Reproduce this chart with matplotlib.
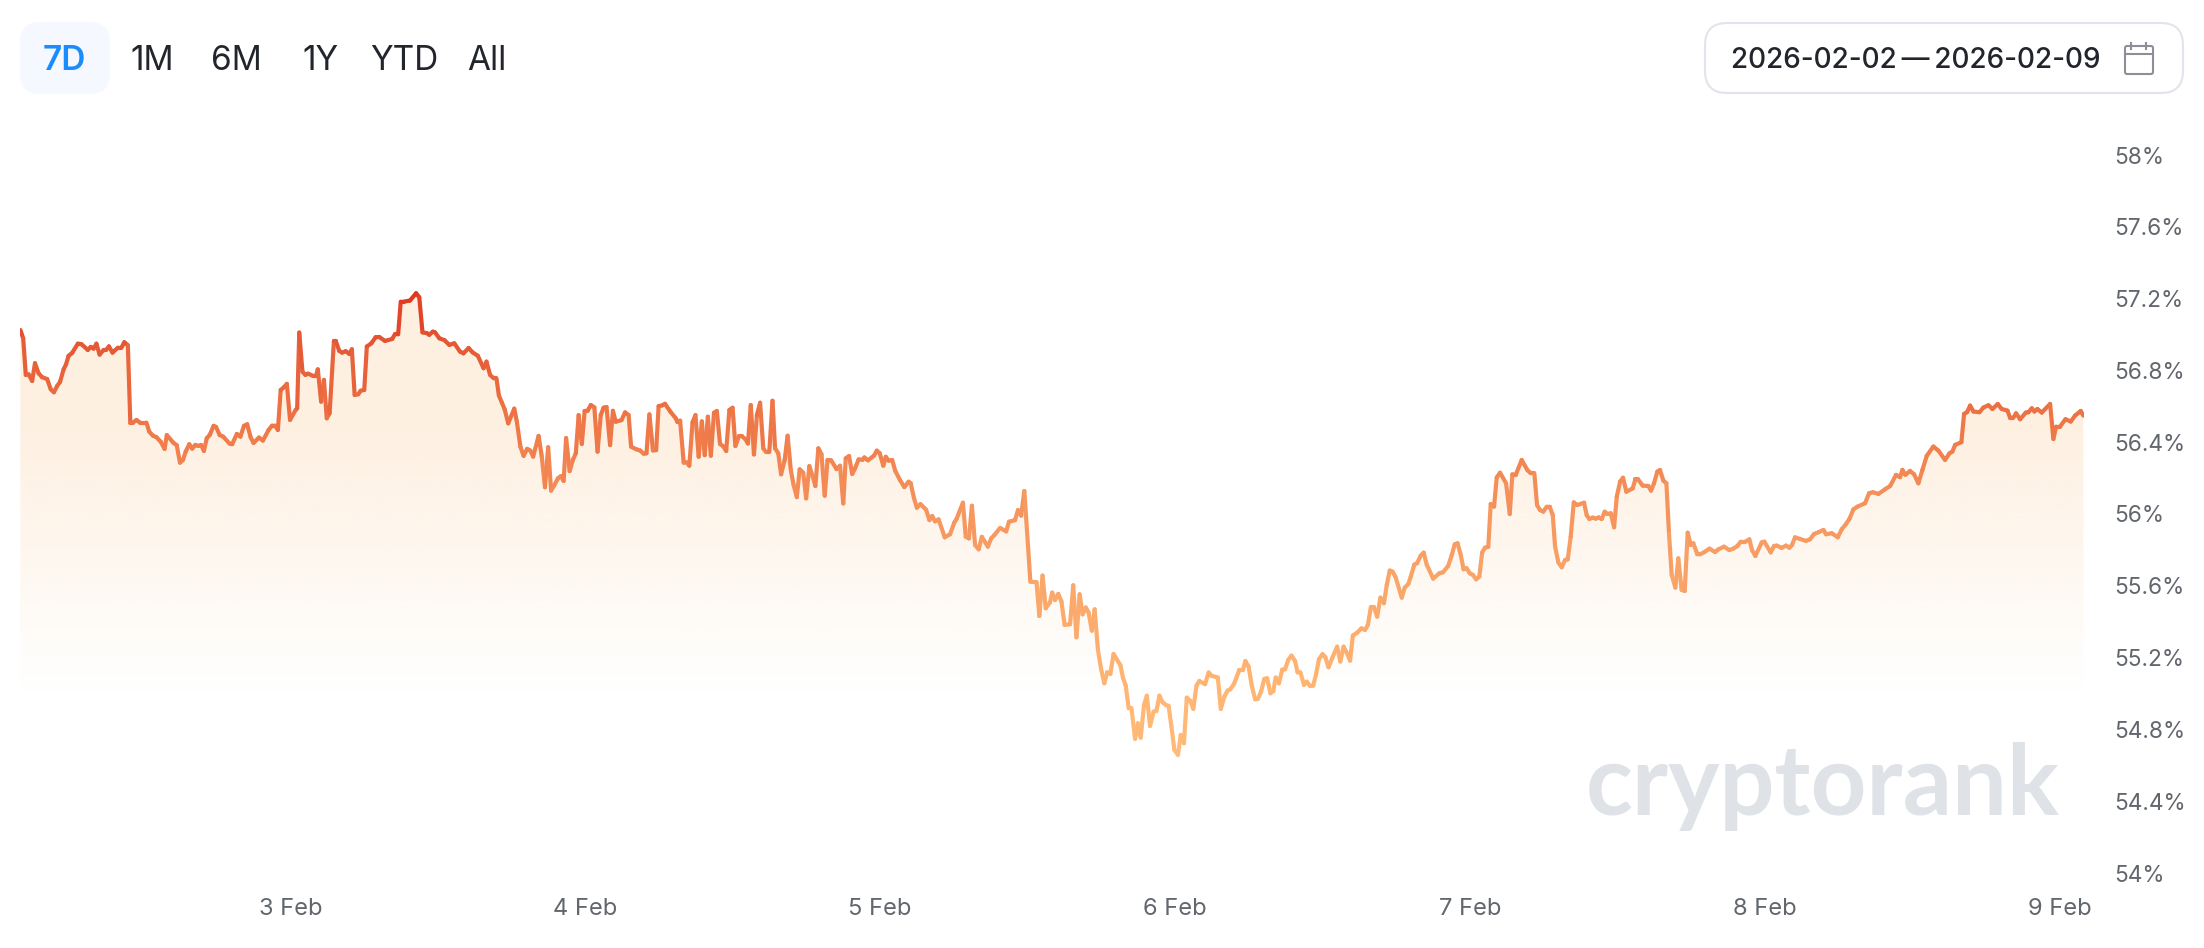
import numpy as np
import matplotlib
matplotlib.use("Agg")
import matplotlib.pyplot as plt
from matplotlib.collections import LineCollection
from matplotlib.colors import LinearSegmentedColormap, Normalize
from matplotlib.patches import FancyBboxPatch, Polygon

plt.rcParams['font.family'] = ['Inter', 'DejaVu Sans']

# hours since 2 Feb 02:00
hours = [0.03,0.26,0.47,0.70,0.99,1.22,1.51,1.80,2.21,2.50,2.76,3.02,3.26,3.55,3.75,3.95,4.24,4.71,5.00,5.52,5.76,5.99,6.22,6.48,6.80,7.01,7.24,7.53,7.97,8.26,8.49,8.78,8.98,9.19,9.48,9.77,10.29,10.52,10.81,11.10,11.45,11.77,11.95,12.47,12.76,13.02,13.26,13.49,13.78,14.01,14.27,14.51,14.74,14.97,15.20,15.44,15.76,15.96,16.25,16.54,17.06,17.27,17.65,17.94,18.23,18.49,18.78,19.01,19.45,19.77,20.23,20.52,20.76,20.99,21.22,21.48,21.72,21.98,22.44,22.56,22.73,22.99,23.23,23.43,23.81,24.10,24.24,24.51,24.74,24.97,25.20,25.55,25.70,25.99,26.22,26.51,26.80,27.01,27.24,27.53,27.73,28.02,28.23,28.60,28.95,29.24,29.71,30.29,30.52,30.78,30.99,31.22,31.74,32.24,32.50,32.76,33.14,33.31,33.60,33.78,34.13,34.56,34.94,35.35,35.81,36.10,36.51,36.83,37.27,37.73,37.97,38.26,38.55,38.78,38.98,39.22,39.45,39.74,40.23,40.44,40.73,40.99,41.28,41.54,41.77,42.21,42.47,42.73,42.99,43.23,
43.49,43.78,44.02,44.25,44.45,44.74,45.00,45.24,45.47,45.73,45.96,46.20,46.46,46.75,47.01,47.27,47.50,47.74,48.03,48.26,48.49,48.96,49.25,49.54,49.74,50.18,50.47,50.76,50.99,51.23,51.52,51.78,51.98,52.27,52.50,52.94,53.38,53.52,53.73,54.02,54.25,54.48,54.74,54.98,55.24,55.50,55.73,55.99,56.23,56.49,56.72,56.98,57.21,57.48,57.74,58.00,58.23,58.52,58.75,59.05,59.25,59.48,59.74,59.98,60.24,60.50,60.70,60.99,61.25,61.46,61.72,61.95,62.24,62.48,62.74,62.97,63.23,63.46,63.75,63.99,64.25,64.51,64.74,64.98,65.24,65.50,65.73,66.02,66.46,66.75,67.01,67.21,67.48,67.74,67.97,68.26,68.58,68.73,69.02,69.51,69.74,69.98,70.27,70.47,70.70,70.99,71.25,71.63,71.98,72.33,72.50,72.77,73.00,73.29,73.75,74.02,74.25,74.48,74.77,75.27,75.70,76.05,76.23,76.75,76.98,77.24,77.48,77.74,78.03,78.29,78.78,79.05,79.31,79.77,80.27,80.50,80.99,81.23,81.49,81.75,
82.24,82.74,82.97,83.23,83.49,83.84,84.01,84.25,84.51,84.77,85.03,85.47,85.73,85.99,86.25,86.49,86.75,86.98,87.24,87.47,87.74,88.00,88.26,88.49,88.75,89.01,89.57,89.77,90.00,90.24,90.47,90.76,90.99,91.22,91.49,91.72,91.98,92.27,92.50,92.74,93.00,93.29,93.49,93.72,93.96,94.25,94.48,94.74,94.97,95.26,95.50,95.76,95.99,96.46,96.75,97.01,97.50,97.74,98.03,98.29,98.52,98.81,99.25,99.54,99.74,100.00,100.26,100.53,100.76,101.02,101.28,101.51,101.78,102.01,102.21,102.47,102.74,102.97,103.23,103.49,103.78,103.99,104.22,104.51,104.74,105.00,105.26,105.50,105.73,106.02,106.25,106.51,106.80,107.21,107.47,107.73,107.97,108.26,108.49,108.84,109.19,109.48,109.71,109.95,110.21,110.47,110.73,111.02,111.25,111.49,111.72,111.95,112.47,112.71,113.00,113.20,113.49,113.72,114.01,114.25,114.51,115.03,115.53,115.82,116.25,116.54,116.78,117.01,117.27,117.50,117.74,118.00,118.26,118.52,118.78,119.01,119.25,119.51,
119.71,119.98,120.20,120.47,120.96,121.26,121.47,121.74,122.23,122.69,122.96,123.26,123.48,123.72,123.99,124.27,124.51,124.76,124.95,125.22,125.49,125.76,125.98,126.22,126.47,126.74,127.31,127.52,127.74,128.01,128.26,128.50,128.74,128.99,129.20,129.48,129.75,129.97,130.24,130.48,130.75,131.27,131.48,131.70,132.08,132.54,132.76,133.00,133.27,133.49,133.76,134.01,134.22,134.44,134.74,134.98,135.25,135.50,135.74,135.99,136.20,136.53,136.75,137.15,137.51,137.97,138.24,138.70,139.13,139.46,139.79,140.06,140.44,140.76,140.98,141.25,141.77,141.98,142.50,142.77,142.99,143.39,143.75,144.02,144.23,144.48,144.89,145.37,145.70,146.03,146.38,
146.79,147.01,147.47,147.96,148.28,148.64,148.91,149.23,149.56,150.18,150.51,150.81,151.27,151.81,152.22,152.70,153.03,153.22,153.46,153.84,154.17,154.52,154.85,155.20,155.74,156.15,156.69,157.05,157.29,157.51,158.02,158.24,158.48,158.73,159.00,159.49,159.81,160.22,160.55,160.98,161.30,161.77,161.98,162.25,162.47,162.80,163.26,163.48,163.75,163.96,164.21,164.56,165.24,165.51,165.73,166.05,166.49,166.92,167.27,167.73,167.95]

share_pct = [57.025,56.979,56.775,56.778,56.741,56.840,56.784,56.762,56.752,56.695,56.678,56.713,56.736,56.806,56.834,56.881,56.897,56.949,56.946,56.914,56.931,56.921,56.949,56.888,56.914,56.914,56.934,56.899,56.927,56.927,56.957,56.940,56.509,56.509,56.524,56.509,56.509,56.459,56.437,56.428,56.403,56.363,56.440,56.398,56.383,56.286,56.301,56.348,56.389,56.364,56.385,56.379,56.385,56.351,56.422,56.440,56.491,56.485,56.440,56.431,56.392,56.389,56.446,56.431,56.491,56.500,56.426,56.396,56.426,56.409,56.468,56.493,56.493,56.468,56.691,56.706,56.725,56.524,56.580,56.589,57.011,56.793,56.775,56.782,56.771,56.771,56.806,56.626,56.747,56.533,56.561,56.964,56.964,56.908,56.899,56.907,56.892,56.918,56.663,56.667,56.687,56.691,56.933,56.951,56.985,56.986,56.964,56.975,57.001,57.001,57.183,57.183,57.189,57.230,57.207,57.012,57.007,56.998,57.016,57.012,56.979,56.968,56.942,56.951,56.905,56.895,56.925,56.901,56.881,56.812,56.849,56.775,56.756,56.756,56.660,56.621,56.583,56.505,56.587,56.515,56.375,56.324,56.363,56.353,56.320,56.435,56.320,56.149,56.372,56.130,
56.161,56.198,56.211,56.184,56.423,56.239,56.301,56.338,56.551,56.390,56.574,56.575,56.607,56.594,56.347,56.551,56.592,56.596,56.384,56.575,56.514,56.523,56.566,56.551,56.375,56.360,56.354,56.336,56.338,56.555,56.354,56.356,56.601,56.605,56.614,56.570,56.533,56.512,56.520,56.286,56.288,56.269,56.510,56.551,56.319,56.516,56.328,56.542,56.325,56.564,56.574,56.390,56.379,56.351,56.579,56.592,56.379,56.434,56.434,56.416,56.393,56.607,56.332,56.551,56.620,56.366,56.347,56.347,56.631,56.366,56.338,56.221,56.301,56.436,56.245,56.161,56.094,56.249,56.230,56.087,56.267,56.211,56.156,56.366,56.332,56.102,56.301,56.299,56.250,56.269,56.059,56.310,56.323,56.223,56.254,56.304,56.302,56.315,56.299,56.325,56.353,56.338,56.269,56.319,56.297,56.301,56.239,56.189,56.150,56.180,56.171,56.087,56.035,56.055,56.024,55.966,55.989,55.959,55.970,55.870,55.887,55.953,55.972,56.063,55.873,55.864,56.046,55.827,55.803,55.873,55.818,55.864,55.883,55.922,55.903,55.957,55.966,56.022,55.991,56.128,
55.623,55.620,55.432,55.657,55.475,55.508,55.562,55.521,55.555,55.512,55.382,55.386,55.603,55.313,55.553,55.441,55.479,55.451,55.350,55.469,55.243,55.135,55.057,55.118,55.109,55.220,55.157,55.089,55.044,54.918,54.918,54.747,54.834,54.754,54.936,54.988,54.819,54.899,54.903,54.988,54.951,54.935,54.931,54.816,54.686,54.658,54.769,54.723,54.977,54.959,54.914,55.044,55.070,55.052,55.117,55.098,55.089,54.914,54.983,55.016,55.024,55.053,55.131,55.131,55.181,55.150,55.044,54.968,54.970,55.011,55.081,55.085,55.001,55.014,55.089,55.057,55.133,55.135,55.187,55.211,55.181,55.118,55.117,55.048,55.066,55.042,55.044,55.109,55.191,55.219,55.202,55.146,55.196,55.261,55.178,55.261,55.230,55.183,55.323,55.339,55.363,55.354,55.382,55.480,55.480,55.428,55.534,55.503,55.605,55.685,55.679,55.651,55.534,55.590,55.610,55.651,55.718,55.726,55.768,55.785,55.716,55.640,55.670,55.675,55.711,55.772,55.831,55.837,55.772,55.692,55.698,55.670,55.661,55.636,55.651,55.785,55.813,55.817,
56.056,56.041,56.204,56.230,56.171,56.000,56.221,56.217,56.301,56.245,56.227,56.227,56.050,56.022,56.013,56.041,56.041,55.994,55.818,55.729,55.703,55.744,55.747,55.874,56.065,56.050,56.063,55.994,55.972,55.980,55.974,55.981,55.972,56.013,56.000,56.004,55.926,56.097,56.180,56.202,56.124,56.143,56.193,56.193,56.158,56.156,56.130,56.171,56.236,56.245,56.186,56.171,55.892,55.660,55.590,55.753,55.577,55.571,55.896,55.827,55.837,55.775,55.775,55.790,55.807,55.788,55.803,55.818,55.799,55.807,55.822,55.846,55.846,55.859,55.799,55.766,55.842,55.846,55.786,55.822,55.824,55.811,55.824,55.812,55.827,55.870,55.861,55.850,55.859,55.889,55.898,
55.911,55.887,55.893,55.870,55.915,55.945,55.973,56.026,56.041,56.060,56.116,56.121,56.112,56.138,56.156,56.218,56.205,56.246,56.218,56.240,56.221,56.171,56.246,56.324,56.376,56.353,56.301,56.338,56.348,56.385,56.400,56.558,56.567,56.604,56.571,56.567,56.593,56.606,56.585,56.613,56.585,56.576,56.537,56.537,56.561,56.528,56.565,56.567,56.589,56.571,56.585,56.565,56.613,56.418,56.487,56.487,56.528,56.515,56.548,56.574,56.548]

y_ticks = [54, 54.4, 54.8, 55.2, 55.6, 56, 56.4, 56.8, 57.2, 57.6, 58]
y_labels = ['54%', '54.4%', '54.8%', '55.2%', '55.6%', '56%', '56.4%', '56.8%', '57.2%', '57.6%', '58%']
x_ticks = [22, 46, 70, 94, 118, 142, 166]
x_labels = ['3 Feb', '4 Feb', '5 Feb', '6 Feb', '7 Feb', '8 Feb', '9 Feb']
ranges = ['1M', '6M', '1Y', 'YTD', 'All']
range_x = [152, 236, 320, 404, 487]

n = min(len(hours), len(share_pct))
t = np.array(hours[:n])
v = np.array(share_pct[:n])

W, H = 2204, 948
fig = plt.figure(figsize=(W / 100, H / 100), dpi=100, facecolor='white')
ax = fig.add_axes([20 / W, 1 - 873 / H, (2084 - 20) / W, (873 - 155) / H])
ax.set_xlim(0, 168)
ax.set_ylim(54, 58)
for s in ax.spines.values():
    s.set_visible(False)
ax.yaxis.tick_right()
ax.set_yticks(y_ticks, y_labels)
ax.set_xticks(x_ticks, x_labels)
ax.tick_params(axis='y', length=0, pad=22, labelsize=16.3, labelcolor='#62666D')
ax.tick_params(axis='x', length=0, pad=18, labelsize=17, labelcolor='#62666D')
for lab in ax.get_yticklabels():
    lab.set_ha('left')

# area gradient
ramp = np.linspace(0, 1, 400)[:, None]       # 0 at 58%, 1 at 54%
levels = 58 - ramp * 4
alpha = np.clip((levels - 55.0) / (56.5 - 55.0), 0, 1)
img = np.zeros((400, 1, 4))
img[..., 0] = 0xFE / 255
img[..., 1] = 0xF0 / 255
img[..., 2] = 0xE1 / 255
img[..., 3] = alpha
im = ax.imshow(img, extent=(0, 168, 54, 58), aspect='auto', zorder=1, interpolation='bilinear')
poly = Polygon(np.r_[np.c_[t, v], [[t[-1], 54], [t[0], 54]]], closed=True, transform=ax.transData)
im.set_clip_path(poly)
ax.set_xlim(0, 168)
ax.set_ylim(54, 58)

# line with vertical gradient
cmap = LinearSegmentedColormap.from_list('line', [
    (0.00, '#FFBC7A'), (0.16, '#FFB472'), (0.36, '#FAA76A'),
    (0.56, '#F5915B'), (0.68, '#F07D4B'), (0.88, '#E65A36'), (1.00, '#E0381E')])
pts = np.c_[t, v].reshape(-1, 1, 2)
segs = np.concatenate([pts[:-1], pts[1:]], axis=1)
lc = LineCollection(segs, cmap=cmap, norm=Normalize(54.65, 57.23), linewidths=3.0,
                    capstyle='round', joinstyle='round', zorder=3)
lc.set_array((v[:-1] + v[1:]) / 2)
ax.add_collection(lc)

# chrome overlay in pixel coordinates
ov = fig.add_axes([0, 0, 1, 1], zorder=-1)
ov.set_xlim(0, W)
ov.set_ylim(H, 0)
ov.axis('off')
ax.patch.set_alpha(0)

ov.add_patch(FancyBboxPatch((20, 22), 90, 72, boxstyle='round,pad=0,rounding_size=20', lw=0, fc='#F5F9FF'))
ov.text(64.5, 61, '7D', ha='center', va='center', fontsize=24, fontweight='semibold', color='#1A8CFF')
for lbl, x in zip(ranges, range_x):
    ov.text(x, 61, lbl, ha='center', va='center', fontsize=24, color='#22262C')

ov.add_patch(FancyBboxPatch((1705, 23), 478, 70, boxstyle='round,pad=0,rounding_size=22',
                            lw=1.5, ec='#E1E4EA', fc='white'))
ov.text(1731, 60, '2026-02-02\u2009—\u20092026-02-09', ha='left', va='center', fontsize=20.1,
        fontweight='medium', color='#22262C')

ov.add_patch(FancyBboxPatch((2125, 46), 28, 28, boxstyle='round,pad=0,rounding_size=2',
                            lw=1.5, ec='#8C9096', fc='none'))
ov.plot([2125, 2153], [54, 54], color='#8C9096', lw=1.5)
ov.plot([2131, 2131], [43, 49], color='#8C9096', lw=1.5)
ov.plot([2146, 2146], [43, 49], color='#8C9096', lw=1.5)

ov.text(1586, 815, 'cryptorank', ha='left', va='baseline', fontsize=70, fontweight='bold',
        family=['Lato', 'DejaVu Sans'], color='#DFE2E7')

fig.savefig('out.png', dpi=100, facecolor='white')
